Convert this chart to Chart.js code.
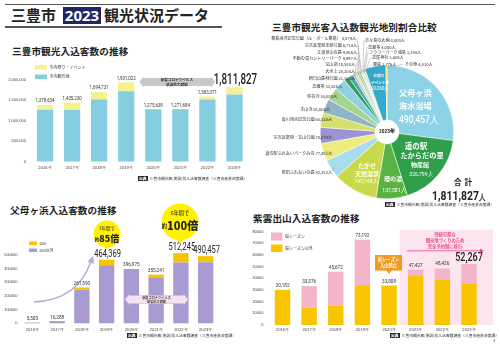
<!DOCTYPE html>
<html>
<head>
<meta charset="utf-8">
<script src="https://cdn.jsdelivr.net/npm/chart.js@4.4.0/dist/chart.umd.min.js"></script>
<style>
body{margin:0;width:500px;height:348px;background:#fff;position:relative;overflow:hidden;font-family:'Noto Sans CJK JP','Noto Sans',sans-serif;color:#222}
canvas{position:absolute}
.t{position:absolute;white-space:nowrap}
.ttl{position:absolute;white-space:nowrap;font-weight:700;font-size:9.6px;line-height:12px;letter-spacing:0.1px;color:#222}
.src{position:absolute;white-space:nowrap;font-size:3.8px;line-height:5px;color:#333}
.src b{display:inline-block;background:#222;color:#fff;padding:0 1px;margin-right:2px;font-weight:700}
.hl{position:absolute;background:#555}
</style>
</head>
<body>
<div class="hl" style="left:5px;top:4px;width:490px;height:1px"></div>
<div class="t" style="left:11px;top:5px;font-size:15px;line-height:20px;font-weight:700">三豊市</div>
<div style="position:absolute;left:63px;top:7px;width:38px;height:17px;background:#1c2866"></div>
<div class="t" style="left:63px;top:5px;width:38px;text-align:center;color:#fff;font:700 15px/20px 'Noto Sans',sans-serif">2023</div>
<div class="t" style="left:104px;top:5px;font-size:15px;line-height:20px;font-weight:700">観光状況データ</div>
<div class="hl" style="left:5px;top:26px;width:217px;height:1.5px"></div>

<div class="ttl" style="left:12px;top:45px">三豊市観光入込客数の推移</div>
<div class="ttl" style="left:272px;top:21px">三豊市観光客入込数観光地別割合比較</div>
<div class="ttl" style="left:10px;top:204px">父母ヶ浜入込客数の推移</div>
<div class="ttl" style="left:253px;top:212px">紫雲出山入込客数の推移</div>

<canvas id="cityChart" width="262" height="114" style="left:0;top:60px"></canvas>
<canvas id="spotChart" width="245" height="185" style="left:255px;top:30px"></canvas>
<canvas id="beachChart" width="240" height="135" style="left:0;top:200px"></canvas>
<canvas id="shiudeChart" width="250" height="112" style="left:250px;top:222px"></canvas>

<div class="t" style="left:454px;top:177px;font-size:7.5px;line-height:10px;font-weight:700;letter-spacing:3px">合計</div>
<div class="t" style="left:432px;top:188px;font:700 13px/16px Roboto,sans-serif;transform:scaleX(0.8);transform-origin:left top">1,811,827<span style="font-size:8px">人</span></div>

<div class="src" style="left:138px;top:175.5px"><b>出典</b>三豊市観光客(施設)別入込客数調査（三豊市産業政策課）</div>
<div class="src" style="left:385px;top:201.5px"><b>出典</b>三豊市観光客(施設)別入込客数調査（三豊市産業政策課）</div>
<div class="src" style="left:127px;top:332.5px"><b>出典</b>三豊市観光客(施設)別入込客数調査（三豊市産業政策課）</div>
<div class="src" style="left:390px;top:332.5px"><b>出典</b>三豊市観光客(施設)別入込客数調査（三豊市産業政策課）</div>
<div class="t" style="left:493px;top:337px;font-size:4px;line-height:6px">1</div>

<script>
// ---- data ----
const years = ['2016年', '2017年', '2018年', '2019年', '2020年', '2021年', '2022年', '2023年'];

// 三豊市観光入込客数
const citySights = [1265000, 1265000, 1510000, 1711000, 1275638, 1271684, 1513000, 1637000];
const cityEvents = [113600, 170200, 184700, 220000, 0, 0, 70400, 174800];
const cityTotals = [1378634, 1435230, 1694731, 1931022, 1275638, 1271684, 1583371, 1811827];

// 父母ヶ浜入込客数
const beachOther = [5500, 16288, 244600, 423400, 396975, 335200, 444200, 446500];
const beachGW = [0, 0, 17000, 41000, 0, 20000, 68000, 44000];
const beachTotals = [5500, 16288, 261590, 464369, 396975, 355241, 512245, 490457];

// 紫雲出山入込客数
const shiudeOther = [30182, 14800, 16500, 34200, 33808, 41900, 39000, 35600];
const shiudeSakura = [0, 18576, 29172, 38992, 0, 5527, 9426, 16667];
const shiudeTotals = [30182, 33376, 45672, 73192, 33808, 47427, 48426, 52267];

// 観光地別 (2023年)
const spotNames = [
  '父母ヶ浜海水浴場', '道の駅たからだの里 物産館', '環の湯', 'たかせ天然温泉',
  '財田ふれあいの森', '道の駅ふれあいパークみの', '宗吉瓦窯跡・宝山公園', '香川用水記念公園',
  '本山寺', '弥谷寺', '高瀬茶', '朝日山森林公園', '大水上', '宝山湖',
  '不動の滝カントリーパーク', '江甫草山の森', '宗吉瓦窯跡史跡公園', '粟島海洋記念公園（ル・ポール粟島）',
  '志々島の大楠', '高瀬茶', 'フラワーパーク浦島', '高屋神社', '粟島', 'お祭り・イベント等', 'その他'
];
const spotVisitors = [
  490457, 326799, 137581, 195148,
  82352, 77401, 70074, 65520,
  61600, 55000, 53500, 21300, 20200, 10580,
  9997, 9466, 6734, 4879,
  4000, 4000, 3184, 3609, 2776, 92060, 4810
];
const spotColors = [
  '#8dd2e7', '#2f9f4a', '#58b244', '#c8da4c',
  '#a9dcee', '#efec7e', '#9b93d2', '#d6df6c',
  '#8fb4c8', '#a7d58c', '#8fd0e4', '#2e9a5c', '#3fae9e', '#bdb3de',
  '#e6e37a', '#9ecbe0', '#5bb86a', '#c6e08a',
  '#e0df50', '#a0d7ea', '#c8e4a0', '#2b9f6a', '#f0e890', '#35a9cc', '#e4dc3a'
];

// ---- helpers ----
const NUM = "Roboto, 'Noto Sans', sans-serif";
const J = "'Noto Sans CJK JP'";
function fmt(v) { return v.toLocaleString('en-US'); }
function txt(ctx, s, x, y, font, color, align, sx) {
  ctx.save();
  ctx.font = font;
  ctx.fillStyle = color;
  ctx.textAlign = align || 'center';
  ctx.textBaseline = 'middle';
  ctx.translate(x, y);
  ctx.scale(sx || 1, 1);
  ctx.fillText(s, 0, 0);
  ctx.restore();
}
function mixed(ctx, parts, cx, y) {
  let w = 0;
  parts.forEach(p => { ctx.font = p.font; p.w = ctx.measureText(p.s).width * (p.sx || 1); w += p.w; });
  let x = cx - w / 2;
  parts.forEach(p => { txt(ctx, p.s, x, y, p.font, p.color || '#222', 'left', p.sx); x += p.w; });
}
function legendBox(ctx, x, y, w, h, color, text) {
  ctx.fillStyle = color;
  ctx.fillRect(x, y, w, h);
  txt(ctx, text, x + w + 2.5, y + h / 2, `4px ${J}`, '#333', 'left');
}
function dblArrow(ctx, x1, x2, cy, h, fill, stroke) {
  const head = h * 0.55;
  ctx.beginPath();
  ctx.moveTo(x1, cy);
  ctx.lineTo(x1 + head, cy - h / 2 - 1.5);
  ctx.lineTo(x1 + head, cy - h / 2);
  ctx.lineTo(x2 - head, cy - h / 2);
  ctx.lineTo(x2 - head, cy - h / 2 - 1.5);
  ctx.lineTo(x2, cy);
  ctx.lineTo(x2 - head, cy + h / 2 + 1.5);
  ctx.lineTo(x2 - head, cy + h / 2);
  ctx.lineTo(x1 + head, cy + h / 2);
  ctx.lineTo(x1 + head, cy + h / 2 + 1.5);
  ctx.closePath();
  ctx.fillStyle = fill;
  ctx.fill();
  if (stroke) { ctx.strokeStyle = stroke; ctx.lineWidth = 0.6; ctx.stroke(); }
}

function barOptions(o) {
  return {
    responsive: false,
    animation: false,
    devicePixelRatio: 1,
    layout: { padding: { top: o.padTop, right: o.padRight, left: 0, bottom: 0 } },
    plugins: { legend: { display: false }, tooltip: { enabled: false } },
    scales: {
      x: {
        stacked: true,
        grid: { display: false, drawTicks: false },
        border: { display: false },
        ticks: { font: { size: 4.2 }, color: '#444', padding: o.xPad, maxRotation: 0, autoSkip: false },
        afterFit(s) { s.height = o.xH; }
      },
      y: {
        stacked: true,
        min: 0,
        max: o.max,
        grid: { display: false, drawTicks: false },
        border: { display: false },
        ticks: { stepSize: o.step, font: { size: 4 }, color: '#444', padding: o.yPad, callback: o.fmt },
        afterFit(s) { s.width = o.yW; }
      }
    }
  };
}

// ---- 三豊市観光入込客数の推移 ----
const C1 = { left: 0, top: 60 };
new Chart(document.getElementById('cityChart'), {
  type: 'bar',
  data: {
    labels: years,
    datasets: [
      { label: '市内観光地', data: citySights, backgroundColor: '#85cde0', barPercentage: 0.6, categoryPercentage: 1, clip: false },
      { label: '市内祭り・イベント', data: cityEvents, backgroundColor: '#f6f08e', barPercentage: 0.6, categoryPercentage: 1, clip: false }
    ]
  },
  options: barOptions({ padTop: 19.5, padRight: 14, xPad: 4, xH: 12.5, max: 2000000, step: 500000, yPad: 5.5, yW: 31.5, fmt: v => fmt(v) }),
  plugins: [{
    id: 'cityDeco',
    afterDatasetsDraw(chart) {
      const ctx = chart.ctx;
      const tops = chart.getDatasetMeta(1).data;
      tops.forEach((bar, i) => {
        if (i === 7) txt(ctx, fmt(cityTotals[i]), bar.x + 1, bar.y - 7, `500 14px ${NUM}`, '#222', 'center', 0.7);
        else txt(ctx, fmt(cityTotals[i]), bar.x, bar.y - 4, `5.2px ${NUM}`, '#333', 'center', 0.85);
      });
      const x = chart.scales.x;
      ctx.save();
      ctx.translate(-C1.left, -C1.top);
      legendBox(ctx, 35, 65, 12, 4.5, chart.data.datasets[1].backgroundColor, chart.data.datasets[1].label);
      legendBox(ctx, 35, 74.5, 12, 4.5, chart.data.datasets[0].backgroundColor, chart.data.datasets[0].label);
      ctx.restore();
      const y82 = chart.scales.y.getPixelForValue(1940000);
      dblArrow(ctx, x.getPixelForValue(3) + 13, x.getPixelForValue(6) + 8, y82, 8, '#c9c9c9');
      const cx = (x.getPixelForValue(3) + x.getPixelForValue(6)) / 2 + 10;
      txt(ctx, '新型コロナウイルス', cx, y82 - 2, `700 3.6px ${J}`, '#333');
      txt(ctx, '感染拡大期間', cx, y82 + 2.2, `700 3.6px ${J}`, '#333');
    }
  }]
});

// ---- 観光地別割合 ----
const C2 = { left: 255, top: 30 };
// label layout: [anchor x, y, side] in page coordinates
const spotLabelPos = [
  null, null, null, null,
  [332, 172, 'L'], [332, 153, 'L'], [332, 137, 'L'], [332, 119, 'L'],
  [330, 109, 'L'], [337, 96, 'L'], [342, 86, 'L'], [355, 78, 'L'], [355, 71, 'L'], [355, 64, 'L'],
  [357, 58, 'L'], [357, 52, 'L'], [357, 45, 'L'], [356, 38, 'L'],
  [365, 40, 'R'], [368, 47, 'R'], [369, 52, 'R'], [372, 57, 'R'], [373, 64, 'R'], null, [405, 64, 'R']
];
new Chart(document.getElementById('spotChart'), {
  type: 'doughnut',
  data: {
    labels: spotNames,
    datasets: [{ data: spotVisitors, backgroundColor: spotColors, borderColor: '#fff', borderWidth: 0.5 }]
  },
  options: {
    responsive: false,
    animation: false,
    devicePixelRatio: 1,
    cutout: 12,
    layout: { padding: { left: 65, top: 35, right: 46, bottom: 16 } },
    plugins: { legend: { display: false }, tooltip: { enabled: false } }
  },
  plugins: [{
    id: 'spotDeco',
    afterDatasetsDraw(chart) {
      const ctx = chart.ctx;
      const arcs = chart.getDatasetMeta(0).data;
      arcs.forEach((a, i) => {
        const pos = spotLabelPos[i];
        if (!pos) return;
        const mid = (a.startAngle + a.endAngle) / 2;
        const px = a.x + Math.cos(mid) * a.outerRadius * 0.96;
        const py = a.y + Math.sin(mid) * a.outerRadius * 0.96;
        const lx = pos[0] - C2.left, ly = pos[1] - C2.top;
        ctx.strokeStyle = '#888';
        ctx.lineWidth = 0.4;
        ctx.beginPath();
        ctx.moveTo(pos[2] === 'L' ? lx + 1 : lx - 1, ly);
        ctx.lineTo(px, py);
        ctx.stroke();
        const s = spotNames[i] + ' ' + fmt(spotVisitors[i]) + '人';
        txt(ctx, s, lx, ly, `4.1px ${J}`, '#333', pos[2] === 'L' ? 'right' : 'left');
      });
      const c = arcs[0];
      txt(ctx, '2023年', c.x, c.y, `700 5.5px ${NUM}`, '#222', 'center', 0.85);
      ctx.save();
      ctx.translate(-C2.left, -C2.top);
      txt(ctx, '父母ヶ浜', 399, 93, `700 8.2px ${J}`, '#fff', 'left');
      txt(ctx, '海水浴場', 399, 106, `700 8.2px ${J}`, '#fff', 'left');
      txt(ctx, '490,457人', 399, 120, `500 10px ${NUM}`, '#fff', 'left', 0.85);
      txt(ctx, '道の駅', 416, 146.5, `700 7.5px ${J}`, '#fff');
      txt(ctx, 'たからだの里', 422, 155.5, `700 7.2px ${J}`, '#fff');
      txt(ctx, '物産館', 420, 165, `700 6px ${J}`, '#fff');
      txt(ctx, '326,799人', 421, 174.5, `6px ${NUM}`, '#fff', 'center', 0.85);
      txt(ctx, '環の湯', 393, 179, `700 6px ${J}`, '#fff');
      txt(ctx, '137,581人', 394, 190.5, `6px ${NUM}`, '#fff', 'center', 0.85);
      txt(ctx, 'たかせ', 367, 166, `700 6px ${J}`, '#fff');
      txt(ctx, '天然温泉', 367, 174, `700 6px ${J}`, '#fff');
      txt(ctx, '195,148人', 366, 181.5, `6px ${NUM}`, '#fff', 'center', 0.85);
      txt(ctx, 'お祭り', 379, 76, `700 3.6px ${J}`, '#fff');
      txt(ctx, 'イベント等', 380, 82.5, `700 3.6px ${J}`, '#fff');
      txt(ctx, '92,060人', 380, 89, `5px ${NUM}`, '#fff', 'center', 0.85);
      ctx.restore();
    }
  }]
});

// ---- 父母ヶ浜入込客数の推移 ----
const C3 = { left: 0, top: 200 };
new Chart(document.getElementById('beachChart'), {
  type: 'bar',
  data: {
    labels: years,
    datasets: [
      { label: 'GW以外', data: beachOther, backgroundColor: '#a99bd2', barPercentage: 0.62, categoryPercentage: 1, clip: false },
      { label: 'GW', data: beachGW, backgroundColor: '#f8c400', barPercentage: 0.62, categoryPercentage: 1, clip: false }
    ]
  },
  options: barOptions({ padTop: 54.8, padRight: 22, xPad: 4, xH: 11.7, max: 500000, step: 100000, yPad: 2.5, yW: 20, fmt: v => String(v) }),
  plugins: [{
    id: 'beachDeco',
    beforeDatasetsDraw(chart) {
      const ctx = chart.ctx;
      ctx.save();
      ctx.translate(-C3.left, -C3.top);
      // curved arrow
      ctx.strokeStyle = '#b4a8da';
      ctx.lineWidth = 1.4;
      ctx.beginPath();
      ctx.moveTo(34, 302);
      ctx.quadraticCurveTo(78, 300, 91, 261);
      ctx.stroke();
      ctx.fillStyle = '#b4a8da';
      ctx.beginPath();
      ctx.moveTo(93, 256);
      ctx.lineTo(94, 264);
      ctx.lineTo(87.5, 261.5);
      ctx.closePath();
      ctx.fill();
      ctx.restore();
    },
    afterDatasetsDraw(chart) {
      const ctx = chart.ctx;
      const tops = chart.getDatasetMeta(1).data;
      tops.forEach((bar, i) => {
        const big = i === 3 || i === 6 || i === 7;
        if (big) txt(ctx, fmt(beachTotals[i]), bar.x + 1, bar.y - 5.5, `11px ${NUM}`, '#222', 'center', 0.68);
        else txt(ctx, fmt(beachTotals[i]), bar.x, bar.y - 4, `5.8px ${NUM}`, '#333', 'center', 0.8);
      });
      ctx.save();
      ctx.translate(-C3.left, -C3.top);
      legendBox(ctx, 29, 241.5, 8, 3.5, chart.data.datasets[1].backgroundColor, chart.data.datasets[1].label);
      legendBox(ctx, 29, 248.5, 8, 3.5, chart.data.datasets[0].backgroundColor, chart.data.datasets[0].label);
      // yellow circles
      ctx.fillStyle = '#fff200';
      ctx.beginPath(); ctx.arc(107, 234, 13.5, 0, Math.PI * 2); ctx.fill();
      ctx.beginPath(); ctx.moveTo(104, 246); ctx.lineTo(107, 250); ctx.lineTo(110, 246); ctx.fill();
      ctx.beginPath(); ctx.arc(180, 222, 18.5, 0, Math.PI * 2); ctx.fill();
      ctx.beginPath(); ctx.moveTo(176.5, 239); ctx.lineTo(180, 244); ctx.lineTo(183.5, 239); ctx.fill();
      txt(ctx, '3年間で', 107, 228, `4.5px ${J}`, '#222');
      mixed(ctx, [{ s: '約', font: `700 4.5px ${J}` }, { s: '85倍', font: `900 9px ${J}` }], 107, 239);
      txt(ctx, '6年間で', 180, 213, `5.2px ${J}`, '#222');
      mixed(ctx, [{ s: '約', font: `700 5.2px ${J}` }, { s: '100倍', font: `900 11px ${J}` }], 180, 226);
      // corona pill
      dblArrow(ctx, 125, 188, 299.5, 8, '#f4e2ec', '#d7b9cd');
      txt(ctx, '新型コロナウイルス', 156.5, 297.5, `700 3.2px ${J}`, '#444');
      txt(ctx, '感染拡大期間', 156.5, 301.5, `700 3.2px ${J}`, '#444');
      ctx.restore();
    }
  }]
});

// ---- 紫雲出山入込客数の推移 ----
const C4 = { left: 250, top: 222 };
new Chart(document.getElementById('shiudeChart'), {
  type: 'bar',
  data: {
    labels: years,
    datasets: [
      { label: '桜シーズン以外', data: shiudeOther, backgroundColor: '#f9c400', barPercentage: 0.58, categoryPercentage: 1, clip: false },
      { label: '桜シーズン', data: shiudeSakura, backgroundColor: '#f3b5ca', barPercentage: 0.58, categoryPercentage: 1, clip: false }
    ]
  },
  options: barOptions({ padTop: 9.7, padRight: 17.7, xPad: 2, xH: 9, max: 80000, step: 10000, yPad: 5.7, yW: 19.2, fmt: v => String(v) }),
  plugins: [{
    id: 'shiudeDeco',
    beforeDatasetsDraw(chart) {
      const ctx = chart.ctx;
      const x = chart.scales.x, y = chart.scales.y;
      const l = x.getPixelForValue(5) - 16, r = x.getPixelForValue(7) + 24;
      ctx.fillStyle = '#fde5ef';
      ctx.fillRect(l, y.getPixelForValue(80000) - 2, r - l, y.getPixelForValue(0) - y.getPixelForValue(80000) + 2);
    },
    afterDatasetsDraw(chart) {
      const ctx = chart.ctx;
      const tops = chart.getDatasetMeta(1).data;
      tops.forEach((bar, i) => {
        if (i === 7) txt(ctx, fmt(shiudeTotals[i]), bar.x, bar.y - 6.5, `500 12px ${NUM}`, '#222', 'center', 0.75);
        else txt(ctx, fmt(shiudeTotals[i]), bar.x, bar.y - 4.5, `5.8px ${NUM}`, '#333', 'center', 0.8);
      });
      ctx.save();
      ctx.translate(-C4.left, -C4.top);
      legendBox(ctx, 271, 232.5, 11.5, 8, chart.data.datasets[1].backgroundColor, chart.data.datasets[1].label);
      legendBox(ctx, 271, 244.5, 11.5, 7.5, chart.data.datasets[0].backgroundColor, chart.data.datasets[0].label);
      txt(ctx, '持続可能な', 445, 234.3, `700 4.3px ${J}`, '#e8488a');
      txt(ctx, '観光地づくりのため', 445, 240.5, `700 4.3px ${J}`, '#e8488a');
      txt(ctx, '完全予約制に移行', 445, 246.5, `700 4.3px ${J}`, '#e8488a');
      ctx.strokeStyle = '#e8488a';
      ctx.lineWidth = 0.8;
      ctx.beginPath(); ctx.moveTo(407, 250.8); ctx.lineTo(481, 250.8); ctx.stroke();
      ctx.fillStyle = '#e8488a';
      ctx.beginPath(); ctx.moveTo(484, 250.8); ctx.lineTo(480, 248.8); ctx.lineTo(480, 252.8); ctx.fill();
      // orange callout
      ctx.fillStyle = '#f39a1e';
      ctx.fillRect(375, 255, 27, 15.5);
      ctx.beginPath(); ctx.moveTo(386, 270); ctx.lineTo(389, 274); ctx.lineTo(392, 270); ctx.fill();
      txt(ctx, '桜シーズン', 388.5, 259.5, `700 4.3px ${J}`, '#fff');
      txt(ctx, '入山禁止', 388.5, 265.5, `700 4.3px ${J}`, '#fff');
      ctx.restore();
    }
  }]
});
</script>
</body>
</html>
